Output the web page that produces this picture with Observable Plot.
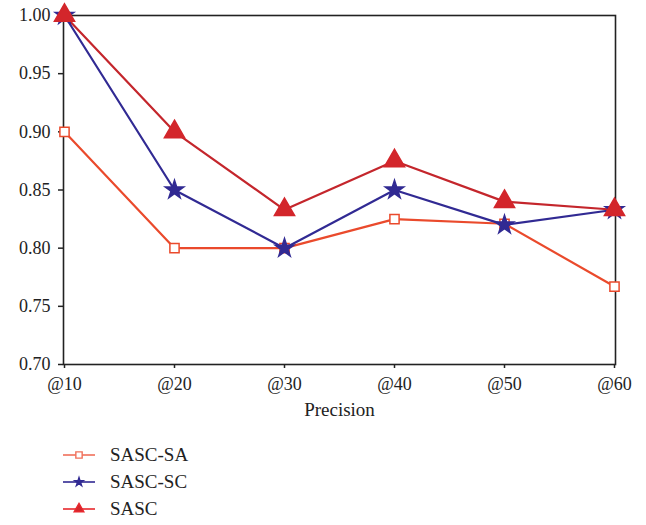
<!DOCTYPE html>
<html>
<head>
<meta charset="utf-8">
<script src="https://cdn.jsdelivr.net/npm/d3@7"></script>
<script src="https://cdn.jsdelivr.net/npm/@observablehq/plot@0.6"></script>
<style>
  body { margin: 0; background: #fff; font-family: "Liberation Serif", serif; }
  #chart svg { display: block; }
  .legend { margin-left: 62px; margin-top: 16px; font-size: 19px; color: #222; }
  .legend .row { display: flex; align-items: center; height: 27px; }
  .legend svg { margin-right: 14px; }
</style>
</head>
<body>
<div id="chart"></div>
<div class="legend" id="legend"></div>
<script>
const categories = ["@10", "@20", "@30", "@40", "@50", "@60"];
const seriesNames = ["SASC-SA", "SASC-SC", "SASC"];
const sascSA = [0.90, 0.80, 0.80, 0.825, 0.821, 0.767];
const sascSC = [1.00, 0.85, 0.80, 0.85, 0.82, 0.833];
const sasc   = [1.00, 0.90, 0.833, 0.875, 0.84, 0.833];
const yTicks = [0.70, 0.75, 0.80, 0.85, 0.90, 0.95, 1.00];

const styles = {
  "SASC-SA": {line: "#ea4a2c", symbol: "square", fill: "white", stroke: "#ea4a2c", r: 5.2, legendLine: "#f0705a"},
  "SASC-SC": {line: "#312a93", symbol: "star", fill: "#312a93", stroke: "#312a93", r: 5.8, legendLine: "#312a93"},
  "SASC":    {line: "#c4262c", symbol: "triangle", fill: "#d3262b", stroke: "#d3262b", r: 7.5, legendLine: "#e8282e"}
};

const values = {"SASC-SA": sascSA, "SASC-SC": sascSC, "SASC": sasc};
const data = seriesNames.flatMap(s => categories.map((c, i) => ({series: s, x: c, y: values[s][i]})));

const marks = [];
for (const s of seriesNames) {
  const d = data.filter(r => r.series === s);
  marks.push(Plot.line(d, {x: "x", y: "y", stroke: styles[s].line, strokeWidth: 2.2}));
}
for (const s of seriesNames) {
  const d = data.filter(r => r.series === s);
  marks.push(Plot.dot(d, {x: "x", y: "y", symbol: () => styles[s].symbol, r: styles[s].r,
    fill: styles[s].fill, stroke: styles[s].stroke, strokeWidth: 1.5}));
}

const chart = Plot.plot({
  width: 646,
  height: 425,
  marginLeft: 63,
  marginRight: 31,
  marginTop: 15,
  marginBottom: 61,
  style: {fontFamily: "Liberation Serif", fontSize: "18px", color: "#222", background: "white"},
  x: {type: "point", domain: categories, padding: 0, label: null},
  y: {domain: [0.70, 1.00], ticks: yTicks, tickFormat: d3.format(".2f"), label: null},
  symbol: {type: "identity"},
  marks: [
    Plot.axisY({ticks: yTicks, tickFormat: d3.format(".2f"), tickSize: 5, tickPadding: 8, stroke: "#222", strokeWidth: 1.5, fontSize: 18, label: null}),
    Plot.axisX({tickSize: 4, tickPadding: 9, stroke: "#222", strokeWidth: 1.5, fontSize: 18, label: null}),
    Plot.text(["Precision"], {frameAnchor: "bottom", dy: 51, fontSize: 19, fill: "#222", text: d => d}),
    Plot.frame({stroke: "#222", strokeWidth: 1.6}),
    ...marks
  ]
});
document.getElementById("chart").appendChild(chart);

// Legend
const legend = document.getElementById("legend");
const symbolPaths = {square: d3.symbolSquare, star: d3.symbolStar, triangle: d3.symbolTriangle};
for (const s of seriesNames) {
  const st = styles[s];
  const row = document.createElement("div");
  row.className = "row";
  const svg = d3.create("svg").attr("width", 34).attr("height", 16);
  svg.append("line").attr("x1", 1).attr("x2", 33).attr("y1", 8).attr("y2", 8)
    .attr("stroke", st.legendLine).attr("stroke-width", 1.6);
  const size = s === "SASC-SA" ? 40 : s === "SASC-SC" ? 22 : 40;
  svg.append("path").attr("transform", "translate(17,8)")
    .attr("d", d3.symbol(symbolPaths[st.symbol], size)())
    .attr("fill", st.fill).attr("stroke", st.legendLine).attr("stroke-width", 1.4);
  row.appendChild(svg.node());
  const label = document.createElement("span");
  label.textContent = s;
  row.appendChild(label);
  legend.appendChild(row);
}
</script>
</body>
</html>
